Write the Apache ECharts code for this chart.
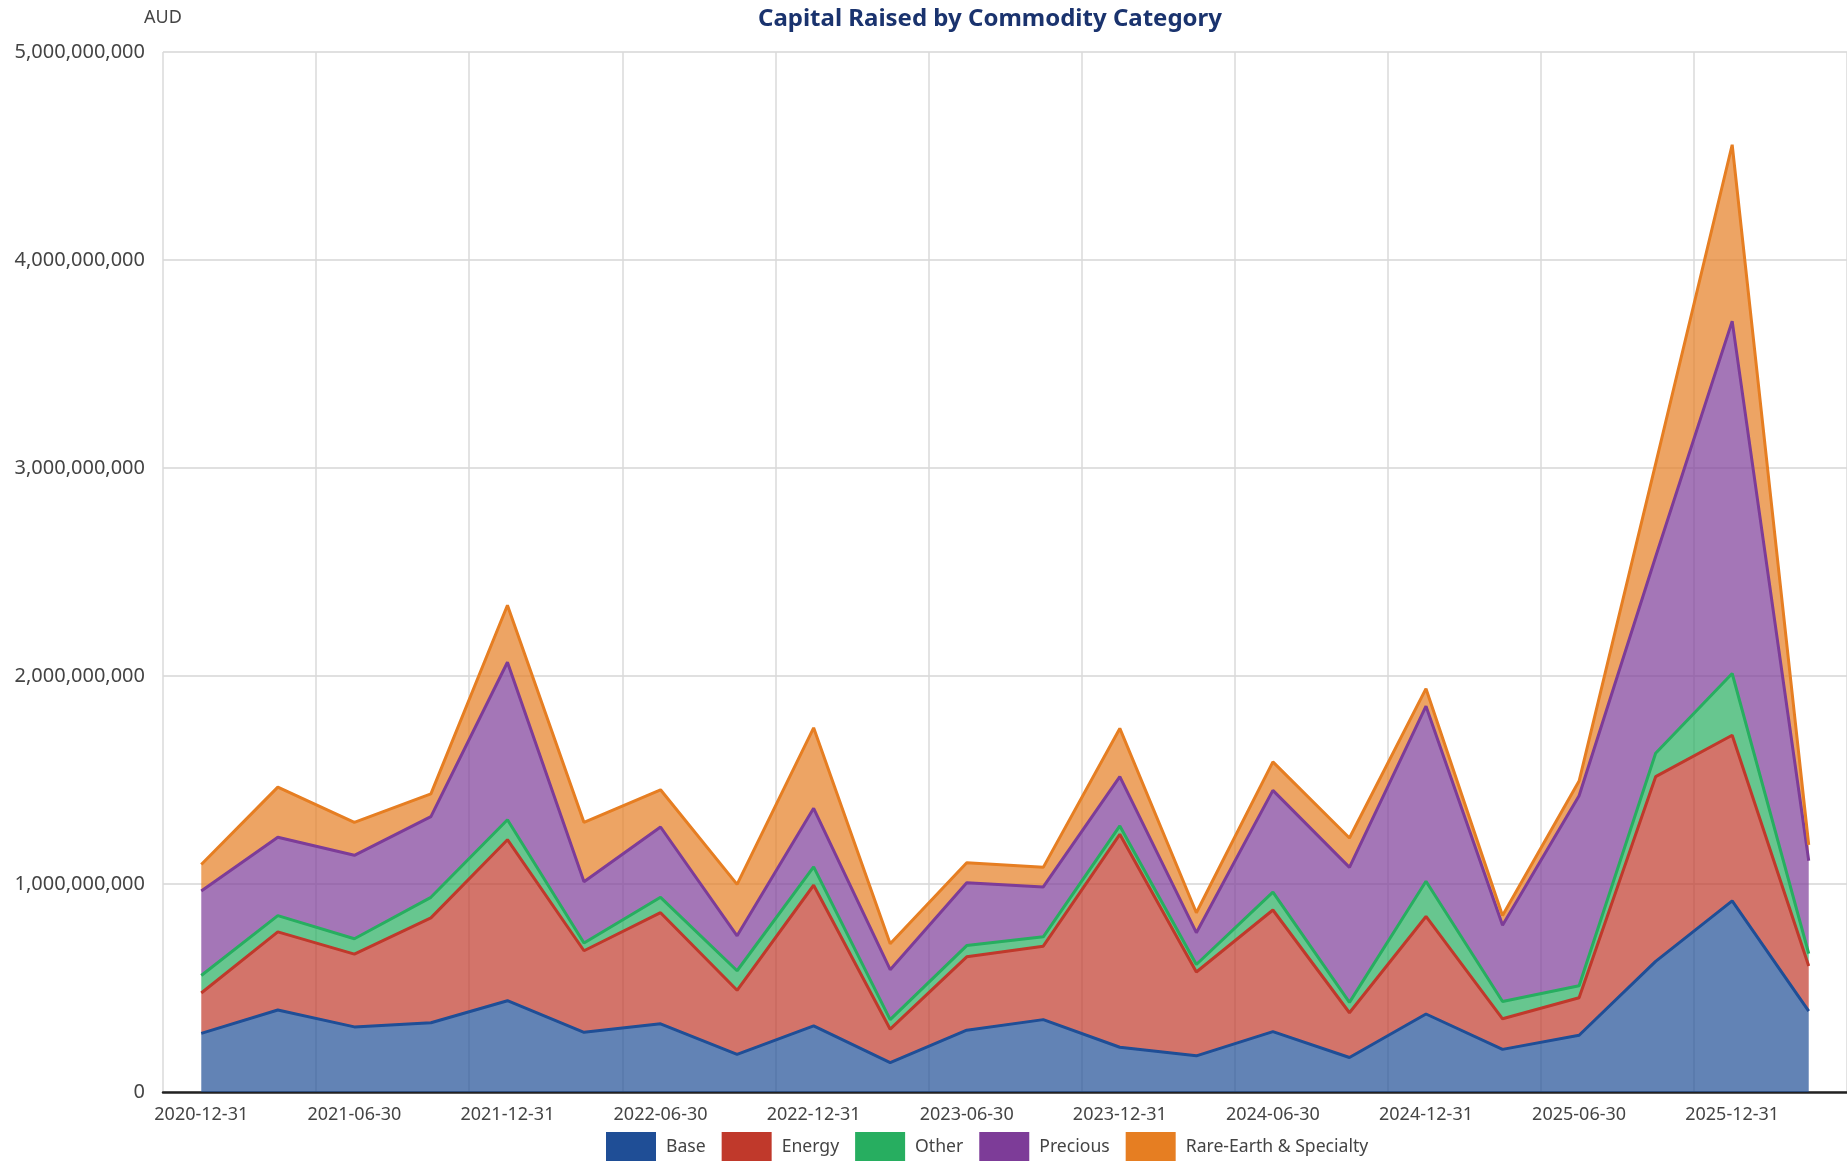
<!DOCTYPE html>
<html>
<head>
<meta charset="utf-8">
<title>Capital Raised by Commodity Category</title>
<script src="https://cdn.jsdelivr.net/npm/echarts@6/dist/echarts.min.js"></script>
<style>
  html, body { margin: 0; padding: 0; background: #fff; }
  #chart { width: 1847px; height: 1161px; }
</style>
</head>
<body>
<div id="chart"></div>
<script>
// quarter ends, one point per quarter
const quarters = [
  '2020-12-31', '2021-03-31', '2021-06-30', '2021-09-30', '2021-12-31',
  '2022-03-31', '2022-06-30', '2022-09-30', '2022-12-31', '2023-03-31',
  '2023-06-30', '2023-09-30', '2023-12-31', '2024-03-31', '2024-06-30',
  '2024-09-30', '2024-12-31', '2025-03-31', '2025-06-30', '2025-09-30',
  '2025-12-31', '2026-03-31'
];

// capital raised per category, AUD millions
const base     = [282, 394, 313, 333, 439, 287, 328, 181, 318, 141, 297, 348, 215, 174, 290, 166, 375, 205, 273, 628, 919, 389];
const energy   = [194, 376, 350, 504, 774, 392, 534, 308, 676, 161, 353, 353, 1024, 403, 585, 215, 469, 147, 180, 888, 796, 217];
const other    = [84, 78, 74, 99, 96, 37, 74, 94, 88, 46, 54, 45, 40, 36, 86, 50, 169, 83, 58, 113, 297, 59];
const precious = [406, 377, 401, 388, 757, 295, 338, 168, 282, 240, 302, 240, 237, 153, 489, 649, 842, 367, 913, 944, 1694, 447];
const rare     = [128, 241, 158, 109, 274, 285, 179, 247, 387, 125, 96, 94, 232, 96, 137, 141, 84, 46, 71, 447, 848, 76];

const categories = [
  { name: 'Base', values: base, color: '#1f4e96' },
  { name: 'Energy', values: energy, color: '#c0392b' },
  { name: 'Other', values: other, color: '#27ae60' },
  { name: 'Precious', values: precious, color: '#7d3c98' },
  { name: 'Rare-Earth & Specialty', values: rare, color: '#e67e22' }
];

const FONT = 'Noto Sans';

const chart = echarts.init(document.getElementById('chart'));

chart.setOption({
  animation: false,
  textStyle: { fontFamily: FONT },
  title: {
    text: 'Capital Raised by Commodity Category',
    left: 985,
    top: 2,
    textAlign: 'center',
    textStyle: { fontFamily: FONT, fontSize: 24, fontWeight: 'bold', color: '#1a336e' }
  },
  legend: {
    left: 606,
    top: 1132,
    padding: 0,
    itemWidth: 50,
    itemHeight: 30,
    itemGap: 16,
    icon: 'rect',
    textStyle: { fontFamily: FONT, fontSize: 17.6, color: '#444', padding: [0, 0, 0, 5] },
    data: categories.map(c => c.name)
  },
  grid: { left: 163, right: -3, top: 52, bottom: 69, containLabel: false },
  xAxis: {
    type: 'category',
    boundaryGap: true,
    data: quarters,
    axisLine: { show: true, lineStyle: { color: '#222', width: 2.5 } },
    axisTick: { show: false, interval: 1 },
    axisLabel: { interval: 1, margin: 14, fontSize: 18, color: '#444' },
    splitLine: { show: true, interval: 1, lineStyle: { color: '#dadada', width: 1.5 } }
  },
  yAxis: {
    type: 'value',
    min: 0,
    max: 5000000000,
    interval: 1000000000,
    name: 'AUD',
    nameLocation: 'end',
    nameGap: 25,
    nameTextStyle: { fontSize: 18, color: '#444', align: 'center' },
    axisLine: { show: false },
    axisTick: { show: false },
    axisLabel: {
      margin: 18,
      fontSize: 20,
      color: '#444',
      formatter: v => v.toLocaleString('en-US')
    },
    splitLine: { lineStyle: { color: '#d6d6d6', width: 1.5 } }
  },
  series: categories.map(c => ({
    name: c.name,
    type: 'line',
    stack: 'total',
    data: c.values.map(v => v * 1e6),
    showSymbol: false,
    symbol: 'none',
    itemStyle: { color: c.color },
    lineStyle: { color: c.color, width: 3 },
    areaStyle: { color: c.color, opacity: 0.7 }
  }))
});
</script>
</body>
</html>
